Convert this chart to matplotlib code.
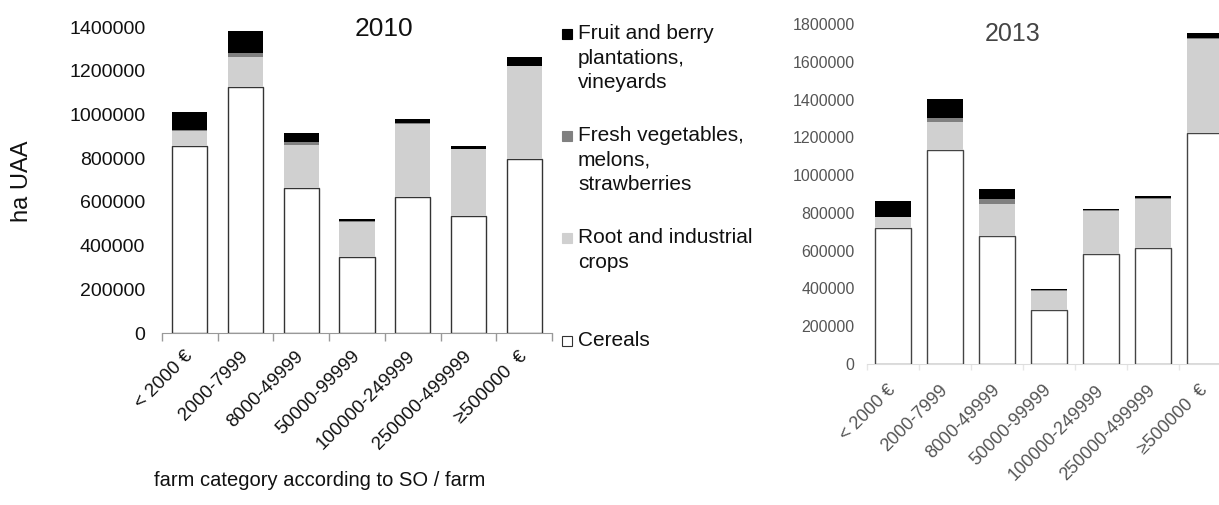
import numpy as np
import matplotlib.pyplot as plt
from matplotlib.patches import Rectangle
from matplotlib.ticker import FormatStrFormatter

plt.rcParams['font.family'] = ['Liberation Sans', 'DejaVu Sans']

# farm categories according to SO / farm
cats = ['< 2000 €', '2000-7999', '8000-49999', '50000-99999',
        '100000-249999', '250000-499999', '≥500000  €']

# 2010, ha UAA
cereals_2010 = [856000, 1126000, 664000, 347000, 620000, 535000, 795000]
root_2010 = [70000, 137000, 194000, 163000, 338000, 305000, 425000]
fresh_2010 = [2000, 18000, 18000, 2000, 3000, 3000, 3000]
fruit_2010 = [85000, 102000, 38000, 10000, 16000, 12000, 38000]

# 2013, ha UAA
cereals_2013 = [721000, 1134000, 680000, 287000, 584000, 612000, 1225000]
root_2013 = [57000, 146000, 168000, 101000, 227000, 264000, 496000]
fresh_2013 = [2000, 21000, 27000, 2000, 2000, 2000, 3000]
fruit_2013 = [82000, 104000, 54000, 7000, 7000, 12000, 27000]

legend_labels = ['Fruit and berry\nplantations,\nvineyards',
                 'Fresh vegetables,\nmelons,\nstrawberries',
                 'Root and industrial\ncrops',
                 'Cereals']
col_fruit = 'black'
col_fresh = '#808080'
col_root = '#d0d0d0'

W, H = 1219, 505
fig = plt.figure(figsize=(W / 100, H / 100), dpi=100)


def box(x0, y0, x1, y1):
    # pixel box (from top-left) -> figure fraction rect
    return [x0 / W, 1 - y1 / H, (x1 - x0) / W, (y1 - y0) / H]


def stack(ax, cer, root, fresh, fruit, width, edge):
    x = np.arange(len(cats))
    cer = np.array(cer)
    root = np.array(root)
    fresh = np.array(fresh)
    fruit = np.array(fruit)
    ax.bar(x, cer, width, color='white', edgecolor=edge, linewidth=1.0, zorder=3)
    ax.bar(x, root, width, bottom=cer, color=col_root, linewidth=0, zorder=3)
    ax.bar(x, fresh, width, bottom=cer + root, color=col_fresh, linewidth=0, zorder=3)
    ax.bar(x, fruit, width, bottom=cer + root + fresh, color=col_fruit, linewidth=0, zorder=3)
    ax.set_xlim(-0.5, len(cats) - 0.5)
    for s in ['left', 'right', 'top']:
        ax.spines[s].set_visible(False)
    ax.set_xticks(x)
    ax.set_xticks(np.arange(len(cats) + 1) - 0.5, minor=True)
    ax.tick_params(axis='y', length=0)
    ax.tick_params(axis='x', which='major', length=0)
    ax.yaxis.set_major_formatter(FormatStrFormatter('%d'))


# ---- 2010 ----
ax1 = fig.add_axes(box(162, 27, 552, 333))
stack(ax1, cereals_2010, root_2010, fresh_2010, fruit_2010, 0.63, '#333333')
ax1.set_ylim(0, 1400000)
ax1.set_yticks(np.arange(0, 1400001, 200000))
ax1.tick_params(axis='y', labelsize=14, pad=12, labelcolor='#111111')
ax1.tick_params(axis='x', which='minor', length=6, color='#999999', width=1)
ax1.spines['bottom'].set_color('#999999')
ax1.set_xticklabels(cats, rotation=45, ha='right', va='center',
                    rotation_mode='anchor', fontsize=13.5, color='#111111')
ax1.tick_params(axis='x', which='major', pad=15)
ax1.text(0.57, 0.995, '2010', transform=ax1.transAxes, ha='center', va='center',
         fontsize=19, color='#111111')

fig.text(22 / W, 1 - 181 / H, 'ha UAA', rotation=90, ha='center', va='center',
         fontsize=17, color='#111111')
fig.text(320 / W, 1 - 480 / H, 'farm category according to SO / farm',
         ha='center', va='center', fontsize=14.5, color='#111111')

# legend drawn Excel-style, entries evenly spaced
leg_cols = [col_fruit, col_fresh, col_root, 'white']
leg_top = [24, 126, 228, 331]
for lab, c, yt in zip(legend_labels, leg_cols, leg_top):
    fig.patches.append(Rectangle((562 / W, 1 - (yt + 15) / H), 10 / W, 10 / H,
                                 transform=fig.transFigure, facecolor=c,
                                 edgecolor='#333333' if c == 'white' else c,
                                 linewidth=0.8))
    fig.text(578 / W, 1 - yt / H, lab, ha='left', va='top', fontsize=15,
             color='#111111', linespacing=1.37)

# ---- 2013 ----
ax2 = fig.add_axes(box(867, 24, 1231, 364))
stack(ax2, cereals_2013, root_2013, fresh_2013, fruit_2013, 0.71, '#444444')
ax2.set_ylim(0, 1800000)
ax2.set_yticks(np.arange(0, 1800001, 200000))
ax2.tick_params(axis='y', labelsize=11.5, pad=9, labelcolor='#555555')
ax2.tick_params(axis='x', which='minor', length=4, color='#e6e6e6', width=1)
ax2.spines['bottom'].set_color('#dddddd')
ax2.set_xticklabels(cats, rotation=45, ha='right', va='center',
                    rotation_mode='anchor', fontsize=13, color='#555555')
ax2.tick_params(axis='x', which='major', pad=17)
ax2.text(0.4, 0.97, '2013', transform=ax2.transAxes, ha='center', va='center',
         fontsize=18, color='#444444')

plt.savefig('out.png', dpi=100)
